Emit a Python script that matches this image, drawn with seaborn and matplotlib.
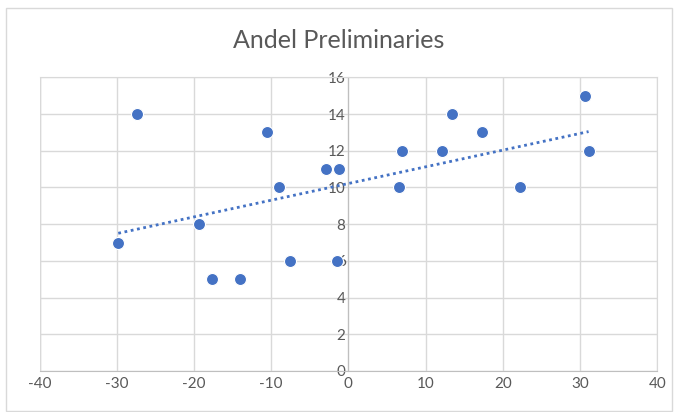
import matplotlib
matplotlib.use("Agg")
import matplotlib.pyplot as plt
import seaborn as sns
import pandas as pd
from matplotlib.patches import Rectangle

# data
x_vals = [-29.8, -27.4, -19.4, -17.6, -14.0, -10.5, -9.0, -7.5, -2.9, -1.2, -1.5,
          6.5, 7.0, 12.1, 13.4, 17.3, 22.2, 30.6, 31.1]
y_vals = [7, 14, 8, 5, 5, 13, 10, 6, 11, 11, 6,
          10, 12, 12, 14, 13, 10, 15, 12]
x_ticks = [-40, -30, -20, -10, 0, 10, 20, 30, 40]
y_ticks = [0, 2, 4, 6, 8, 10, 12, 14, 16]
title = "Andel Preliminaries"

df = pd.DataFrame({"x": x_vals, "y": y_vals})

sns.set_style("white")
plt.rcParams["font.family"] = ["Lato", "DejaVu Sans"]
plt.rcParams["axes.unicode_minus"] = False

blue = "#4472C4"
grid_c = "#d9d9d9"
text_c = "#595959"

fig = plt.figure(figsize=(6.78, 4.12), dpi=100)
ax = fig.add_axes([39.5 / 678, 1 - 371 / 412, (657.3 - 39.5) / 678, (371 - 77.3) / 412])

# trendline (linear fit) first, then points on top
sns.regplot(data=df, x="x", y="y", ci=None, scatter=False, ax=ax,
            line_kws={"color": blue, "linestyle": (0, (1, 1.3)), "linewidth": 2})
sns.scatterplot(data=df, x="x", y="y", ax=ax, color=blue, s=75,
                edgecolor="white", linewidth=0.8, zorder=5)

ax.set_xlim(-40, 40)
ax.set_ylim(0, 16)
ax.set_xticks(x_ticks)
ax.set_yticks(y_ticks)
ax.set_xlabel("")
ax.set_ylabel("")
ax.grid(True, color=grid_c, linewidth=1)
ax.set_axisbelow(True)

for s in ["top", "right"]:
    ax.spines[s].set_color(grid_c)
ax.spines["bottom"].set_color("#bfbfbf")
ax.spines["left"].set_position(("data", 0))
ax.spines["left"].set_color("#bfbfbf")
ax.tick_params(length=0, labelsize=11, colors=text_c, pad=4)
ax.tick_params(axis="y", pad=2)

# left edge grid line at x=-40
ax.axvline(-40, color=grid_c, linewidth=1, zorder=0)

fig.text(0.5, 1 - 40 / 412, title, ha="center", va="center", fontsize=18, color=text_c)

fig.patches.append(Rectangle((6 / 678, 0.002), 1 - 12 / 678, 1 - 8 / 412 - 0.002,
                             transform=fig.transFigure, fill=False,
                             edgecolor=grid_c, linewidth=1))

fig.savefig("out.png", dpi=100)
